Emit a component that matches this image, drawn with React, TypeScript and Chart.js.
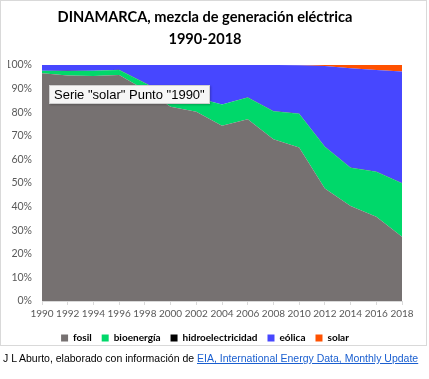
import React, { useEffect, useRef } from 'react';
import { Chart, registerables } from 'chart.js';

Chart.register(...registerables);

const years = ['1990', '1992', '1994', '1996', '1998', '2000', '2002', '2004', '2006', '2008', '2010', '2012', '2014', '2016', '2018'];
const fosil = [96.5, 95.5, 95.3, 95.8, 89.5, 82.3, 80.2, 74.2, 77.0, 68.5, 65.0, 47.7, 40.3, 35.7, 27.2];
const bioenergia = [1.0, 1.9, 2.2, 2.1, 2.9, 4.3, 5.9, 9.0, 9.2, 11.9, 14.3, 17.7, 16.2, 19.1, 22.7];
const hidro = [0.1, 0.1, 0.1, 0.1, 0.1, 0.1, 0.1, 0.1, 0.1, 0.1, 0.1, 0.1, 0.1, 0.1, 0.1];
const eolica = [2.4, 2.5, 2.4, 2.0, 7.5, 13.3, 13.8, 16.7, 13.7, 19.5, 20.5, 34.1, 42.0, 43.0, 47.2];
const solar = [0, 0, 0, 0, 0, 0, 0, 0, 0, 0, 0.1, 0.4, 1.4, 2.1, 2.8];
const yTicks = [0, 10, 20, 30, 40, 50, 60, 70, 80, 90, 100];

const titleLines = ['DINAMARCA, mezcla de generación eléctrica', '1990-2018'];

export default function App() {
  const ref = useRef<HTMLCanvasElement>(null);
  useEffect(() => {
    document.body.style.margin = '0';
    const mk = (label: string, data: number[], color: string, fill: any) => ({
      label,
      data,
      backgroundColor: color,
      borderColor: color,
      borderWidth: 0,
      pointRadius: 0,
      fill,
      tension: 0,
    });
    const chart = new Chart(ref.current!, {
      type: 'line',
      data: {
        labels: years,
        datasets: [
          mk('fosil', fosil, '#767171', 'origin'),
          mk('bioenergía', bioenergia, '#00D86A', '-1'),
          mk('hidroelectricidad', hidro, '#000000', '-1'),
          mk('eólica', eolica, '#4747FF', '-1'),
          mk('solar', solar, '#FF5100', '-1'),
        ],
      },
      options: {
        animation: false,
        responsive: false,
        layout: { padding: { left: 7, right: 26, top: 5, bottom: 0 } },
        font: { family: 'Lato' },
        plugins: {
          title: {
            display: true,
            text: titleLines,
            color: '#000',
            font: { family: 'Lato', size: 14.6, weight: 'bold', lineHeight: 1.54 },
            padding: { top: 0, bottom: 14 },
          },
          legend: {
            position: 'bottom',
            labels: {
              boxWidth: 7,
              boxHeight: 7,
              color: '#000',
              padding: 10,
              font: { family: 'Lato', size: 10, weight: 'bold' },
            },
          },
          tooltip: { enabled: false },
        },
        scales: {
          x: {
            grid: { display: true, drawOnChartArea: false, drawTicks: true, tickLength: 4, color: '#d9d9d9' },
            border: { color: '#d9d9d9' },
            ticks: { autoSkip: false, maxRotation: 0, color: '#595959', font: { family: 'Lato', size: 10 }, padding: 3 },
          },
          y: {
            stacked: true,
            min: 0,
            max: 100,
            afterBuildTicks: (axis: any) => { axis.ticks = yTicks.map((v) => ({ value: v })); },
            afterFit: (axis: any) => { axis.width = 34; },
            ticks: { color: '#595959', font: { family: 'Lato', size: 10.5 }, callback: (v: any) => v + '%', padding: 10 },
            grid: { display: false, drawTicks: false, tickLength: 0 },
            border: { display: false },
          },
        },
      } as any,
    });
    return () => chart.destroy();
  }, []);

  return (
    <div style={{ position: 'relative', width: 429, height: 379, background: '#fff', fontFamily: '"Liberation Sans", Arial, sans-serif' }}>
      <div style={{ position: 'absolute', left: 0, top: 0, width: 425, height: 344, border: '1px solid #d9d9d9', pointerEvents: 'none' }} />
      <canvas ref={ref} width={427} height={352} style={{ position: 'absolute', left: 1, top: 1, width: 427, height: 352 }} />
      <div style={{ position: 'absolute', left: 49, top: 85, height: 17, padding: '0 4px', background: '#f6f6f6', border: '1px solid #d0d0d0', boxShadow: '1px 1px 2px rgba(0,0,0,0.25)', fontSize: 13, lineHeight: '17px', color: '#000', whiteSpace: 'nowrap' }}>
        Serie "solar" Punto "1990"
      </div>
      <div style={{ position: 'absolute', left: 3, top: 350, fontSize: 10.5, lineHeight: '16px', color: '#000', whiteSpace: 'nowrap' }}>
        J L Aburto, elaborado con información de{' '}
        <span style={{ color: '#1a5fd0', textDecoration: 'underline' }}>EIA, International Energy Data, Monthly Update</span>
      </div>
    </div>
  );
}
